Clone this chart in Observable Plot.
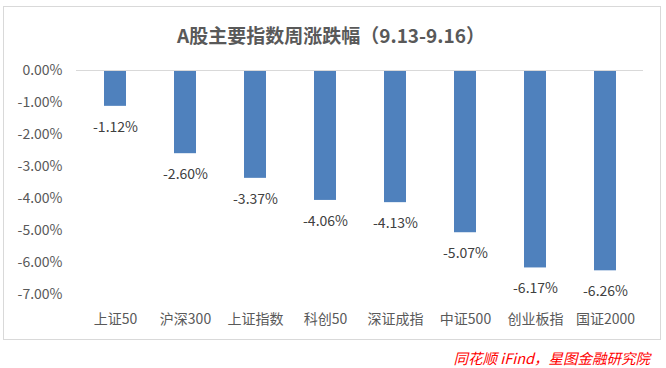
<!DOCTYPE html>
<html><head><meta charset="utf-8">
<script src="https://cdn.jsdelivr.net/npm/d3@7"></script>
<script src="https://cdn.jsdelivr.net/npm/@observablehq/plot@0.6"></script>
<style>
body{margin:0;background:#fff;font-family:"Noto Sans CJK SC","Noto Sans",sans-serif;}
#wrap{position:relative;width:666px;height:368px;overflow:hidden;}
#frame{position:absolute;left:3px;top:6px;width:656px;height:332px;border:1px solid #d9d9d9;}
#title{position:absolute;left:0;width:662px;top:21px;text-align:center;font-size:19px;font-weight:bold;color:#595959;}
#caption{position:absolute;right:16px;top:347px;font-size:14.5px;font-style:italic;color:#ff0000;}
#chart{position:absolute;left:0;top:0;}
</style></head>
<body><div id="wrap"><div id="frame"></div><div id="chart"></div><div id="title">A股主要指数周涨跌幅（9.13-9.16）</div><div id="caption">同花顺 iFind，星图金融研究院</div></div>
<script>
const categories = ["上证50","沪深300","上证指数","科创50","深证成指","中证500","创业板指","国证2000"];
const values = [-1.12,-2.60,-3.37,-4.06,-4.13,-5.07,-6.17,-6.26];
const yTicks = [0,-1,-2,-3,-4,-5,-6,-7];
const data = categories.map((c,i)=>({name:c,value:values[i]}));
const chart = Plot.plot({
  width:666,height:368,
  marginTop:70,marginBottom:74,marginLeft:76,marginRight:23,
  style:{fontFamily:'"Noto Sans CJK SC","Noto Sans",sans-serif',fontSize:"14px",color:"#595959",background:"transparent"},
  x:{domain:categories,paddingInner:0.69,paddingOuter:0.345,align:0.5},
  y:{domain:[-7,0]},
  marks:[
    Plot.barY(data,{x:"name",y:"value",fill:"#4F81BD"}),
    Plot.ruleY([0],{stroke:"#d9d9d9",strokeWidth:1}),
    Plot.text(data,{x:"name",y:"value",text:d=>d.value.toFixed(2)+"%",dy:21,fill:"#404040",fontSize:14}),
    Plot.axisY({ticks:yTicks,tickFormat:d=>d.toFixed(2)+"%",tickSize:0,tickPadding:14,label:null,fontSize:14,fill:"#595959"}),
    Plot.axisX({tickSize:0,tickPadding:20,label:null,fontSize:14,fill:"#595959"})
  ]
});
document.getElementById("chart").appendChild(chart);
</script></body></html>
